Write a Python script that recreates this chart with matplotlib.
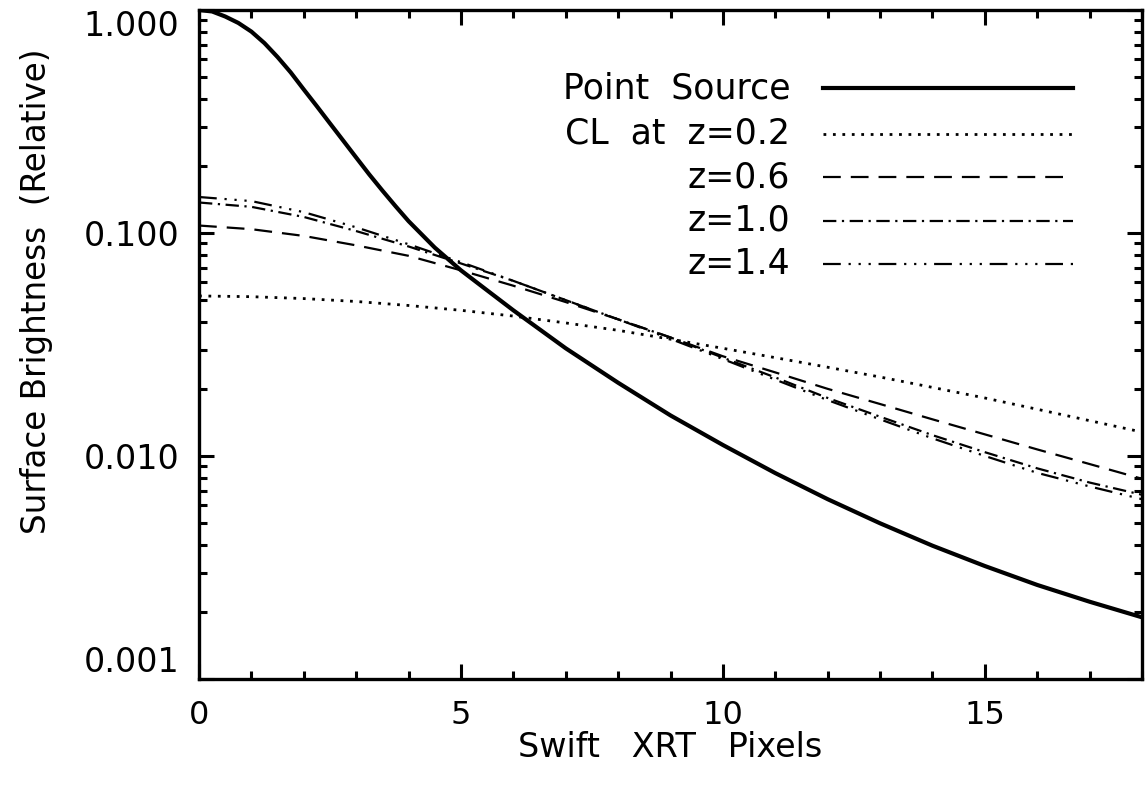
import numpy as np
import matplotlib.pyplot as plt
from matplotlib.lines import Line2D
from matplotlib.ticker import FixedLocator, LogLocator, NullFormatter, MultipleLocator

# point source PSF
x_ps = [0, 0.25, 0.5, 0.75, 1, 1.25, 1.5, 1.75, 2, 2.25, 2.5, 2.75, 3, 3.25, 3.5, 3.75, 4, 4.5, 5, 5.5,
        6, 7, 8, 9, 10, 11, 12, 13, 14, 15, 16, 17, 18]
y_ps = [1.0, 0.985, 0.935, 0.875, 0.80, 0.71, 0.615, 0.525, 0.44, 0.37, 0.31, 0.26, 0.218, 0.183, 0.155,
        0.132, 0.113, 0.086, 0.068, 0.0553,
        0.0450, 0.0304, 0.0213, 0.0152, 0.0112, 0.00838, 0.00640, 0.00499, 0.00396, 0.00321, 0.00264,
        0.00222, 0.00189]

# cluster profiles
x_cl = list(range(19))
y_z02 = [0.0522, 0.0518, 0.0508, 0.0493, 0.0473, 0.0450, 0.0424, 0.0395, 0.0366, 0.0334, 0.0304,
         0.0276, 0.0250, 0.0226, 0.0203, 0.0182, 0.0162, 0.0144, 0.0128]
y_z06 = [0.108, 0.104, 0.097, 0.088, 0.079, 0.068, 0.058, 0.049, 0.041, 0.034, 0.028,
         0.0237, 0.0200, 0.0171, 0.0146, 0.0125, 0.0107, 0.0092, 0.0079]
y_z10 = [0.137, 0.131, 0.118, 0.102, 0.087, 0.073, 0.061, 0.050, 0.041, 0.034, 0.0276,
         0.0225, 0.0182, 0.0150, 0.0124, 0.0104, 0.0088, 0.0076, 0.0067]
y_z14 = [0.145, 0.139, 0.124, 0.106, 0.089, 0.074, 0.061, 0.050, 0.041, 0.0335, 0.0272,
         0.0220, 0.0178, 0.0146, 0.0120, 0.0100, 0.0084, 0.0073, 0.0064]

labels = ['Point  Source', 'CL  at  z=0.2', 'z=0.6', 'z=1.0', 'z=1.4']

plt.rcParams['font.family'] = 'DejaVu Sans'
fig = plt.figure(figsize=(11.45, 7.93), dpi=100)
ax = fig.add_axes([0.1738, 0.1438, 0.8236, 0.8436])

styles = [dict(ls='-', lw=3.0),
          dict(ls=(0, (1, 2.4)), lw=2.0),
          dict(ls=(0, (8, 4.5)), lw=1.6),
          dict(ls=(0, (6, 2.5, 1, 2.5)), lw=1.6),
          dict(ls=(0, (8, 3.5, 1, 3.5, 1, 3.5, 1, 3.5)), lw=1.6)]

series = [(x_ps, y_ps), (x_cl, y_z02), (x_cl, y_z06), (x_cl, y_z10), (x_cl, y_z14)]
for (xs, ys), st in zip(series, styles):
    ax.plot(xs, ys, color='black', **st)

ax.set_yscale('log')
ax.set_xlim(0, 18)
ax.set_ylim(0.001, 1.0)

ax.xaxis.set_major_locator(FixedLocator([0, 5, 10, 15]))
ax.xaxis.set_minor_locator(MultipleLocator(1))
ax.yaxis.set_major_locator(FixedLocator([0.001, 0.01, 0.1, 1.0]))
ax.yaxis.set_minor_locator(LogLocator(base=10, subs=np.arange(2, 10)))
ax.yaxis.set_minor_formatter(NullFormatter())
ax.set_yticklabels(['0.001', '0.010', '0.100', '1.000'])

ax.tick_params(which='both', direction='in', top=True, right=True, width=2.2, colors='black')
ax.tick_params(which='major', length=11)
ax.tick_params(which='minor', length=6)
ax.tick_params(axis='x', labelsize=23, pad=15)
ax.tick_params(axis='y', labelsize=24, pad=14)
for sp in ax.spines.values():
    sp.set_linewidth(2.4)
ylabs = ax.get_yticklabels()
ylabs[0].set_va('bottom')
ylabs[-1].set_va('top')

ax.set_xlabel('Swift   XRT   Pixels', fontsize=24, labelpad=0)
ax.set_ylabel('Surface Brightness  (Relative)', fontsize=23.5)
ax.yaxis.set_label_coords(-0.155, 0.58)

# legend: text right-aligned, line sample to the right
ly = [0.883, 0.815, 0.750, 0.685, 0.621]
for lab, st, yy in zip(labels, styles, ly):
    ax.text(0.627, yy, lab, transform=ax.transAxes, ha='right', va='center', fontsize=25)
    ax.add_line(Line2D([0.662, 0.927], [yy, yy], transform=ax.transAxes, color='black', **st))

fig.savefig('out.png', dpi=100)
